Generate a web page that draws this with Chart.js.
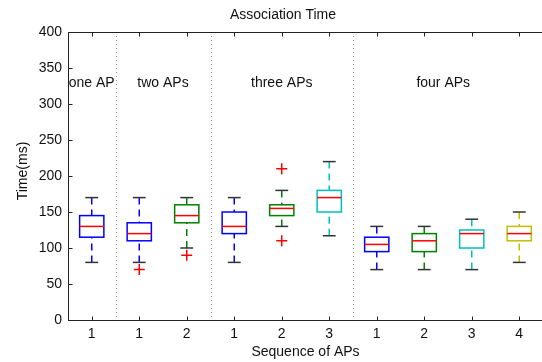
<!DOCTYPE html>
<html>
<head>
<meta charset="utf-8">
<script src="https://cdn.jsdelivr.net/npm/chart.js@4.4.1/dist/chart.umd.min.js"></script>
<style>
  html, body { margin: 0; padding: 0; background: #fff; overflow: hidden; }
</style>
</head>
<body>
<canvas id="grafico" width="550" height="362"></canvas>
<script>
// dados (ms)
const posicoes = [1, 2, 3, 4, 5, 6, 7, 8, 9, 10];
const rotulosX = ['1', '1', '2', '1', '2', '3', '1', '2', '3', '4'];
const bigodeMin = [80, 80, 100, 80, 130, 117, 70, 70, 70, 80];
const quartil1 = [115, 110, 135, 120, 145, 150, 95, 95, 100, 110];
const mediana = [130, 120, 145, 130, 155, 170, 105, 110, 120, 120];
const quartil3 = [145, 135, 160, 150, 160, 180, 115, 120, 125, 130];
const bigodeMax = [170, 170, 170, 170, 180, 220, 130, 130, 140, 150];
const outlierX = [2, 3, 5, 5];
const outlierY = [70, 90, 210, 110];
const ticksY = [0, 50, 100, 150, 200, 250, 300, 350, 400];
const grupos = ['one AP', 'two APs', 'three APs', 'four APs'];
const centroGrupos = [1, 2.5, 5, 8.4];
const separadores = [1.5, 3.5, 6.5];
const cores = ['#0000ff', '#0000ff', '#008000', '#0000ff', '#008000', '#00bfbf', '#0000ff', '#008000', '#00bfbf', '#bfbf00'];

const fonte = '14px "Liberation Sans", Arial, sans-serif';

function linha(ctx, x1, y1, x2, y2) {
  ctx.beginPath();
  ctx.moveTo(x1, y1);
  ctx.lineTo(x2, y2);
  ctx.stroke();
}

// plugin que desenha as caixas usando as escalas do grafico
const boxplot = {
  id: 'boxplot',
  beforeDatasetsDraw(chart) {
    const { ctx, chartArea: area, scales: { x, y } } = chart;
    ctx.save();

    // linhas pontilhadas entre os grupos
    ctx.strokeStyle = '#909090';
    ctx.lineWidth = 1;
    ctx.setLineDash([1, 3]);
    separadores.forEach(s => {
      const px = Math.round(x.getPixelForValue(s)) + 0.5;
      linha(ctx, px, area.top, px, area.bottom);
    });

    posicoes.forEach((p, i) => {
      const xc = x.getPixelForValue(p);
      const xe = x.getPixelForValue(p - 0.255);
      const xd = x.getPixelForValue(p + 0.255);
      const ce = x.getPixelForValue(p - 0.135);
      const cd = x.getPixelForValue(p + 0.135);
      const yMin = y.getPixelForValue(bigodeMin[i]);
      const yQ1 = y.getPixelForValue(quartil1[i]);
      const yMed = y.getPixelForValue(mediana[i]);
      const yQ3 = y.getPixelForValue(quartil3[i]);
      const yMax = y.getPixelForValue(bigodeMax[i]);

      // bigodes tracejados
      ctx.strokeStyle = cores[i];
      ctx.lineWidth = 1.5;
      ctx.setLineDash([7, 5]);
      linha(ctx, xc, yMax, xc, yQ3);
      linha(ctx, xc, yMin, xc, yQ1);

      // extremos
      ctx.setLineDash([]);
      ctx.strokeStyle = '#333';
      linha(ctx, ce, yMax, cd, yMax);
      linha(ctx, ce, yMin, cd, yMin);

      // caixa
      ctx.strokeStyle = cores[i];
      ctx.strokeRect(xe, yQ3, xd - xe, yQ1 - yQ3);

      // mediana
      ctx.strokeStyle = '#ff0000';
      linha(ctx, xe, yMed, xd, yMed);
    });
    ctx.restore();
  },
  afterDraw(chart) {
    const { ctx, chartArea: area, scales: { x, y } } = chart;
    ctx.save();
    ctx.strokeStyle = '#222';
    ctx.lineWidth = 1;
    const top = Math.round(area.top) + 0.5;
    const bottom = Math.round(area.bottom) + 0.5;
    const left = Math.round(area.left) + 0.5;
    linha(ctx, area.left, top, area.right, top);

    // marcas para dentro
    posicoes.forEach(p => {
      const px = Math.round(x.getPixelForValue(p)) + 0.5;
      linha(ctx, px, bottom, px, bottom - 4);
      linha(ctx, px, top, px, top + 4);
    });
    ticksY.forEach(v => {
      const py = Math.round(y.getPixelForValue(v)) + 0.5;
      linha(ctx, left, py, left + 4, py);
    });

    ctx.fillStyle = '#111';
    ctx.font = fonte;
    ctx.textAlign = 'center';
    ctx.textBaseline = 'alphabetic';
    ctx.fillText('Association Time', 283, 19);
    ctx.fillText('Sequence of APs', (area.left + area.right) / 2, 356);

    grupos.forEach((g, i) => {
      ctx.fillText(g, x.getPixelForValue(centroGrupos[i]), y.getPixelForValue(330) + 5);
    });

    ctx.translate(27, (area.top + area.bottom) / 2 - 5);
    ctx.rotate(-Math.PI / 2);
    ctx.fillText('Time(ms)', 0, 0);
    ctx.restore();
  }
};

const grafico = new Chart(document.getElementById('grafico'), {
  type: 'scatter',
  data: {
    datasets: [{
      label: 'outliers',
      data: outlierX.map((v, i) => ({ x: v, y: outlierY[i] })),
      pointStyle: 'cross',
      pointRadius: 5.5,
      pointBorderColor: '#ff0000',
      pointBorderWidth: 1.5,
      pointBackgroundColor: '#ff0000'
    }]
  },
  options: {
    responsive: false,
    animation: false,
    layout: { padding: { top: 32, right: 2, left: 0, bottom: 0 } },
    plugins: { legend: { display: false }, tooltip: { enabled: false }, title: { display: false } },
    scales: {
      x: {
        type: 'linear',
        min: 0.5,
        max: 10.5,
        afterFit: s => { s.height = 42; },
        afterBuildTicks: s => { s.ticks = posicoes.map(v => ({ value: v })); },
        grid: { display: false, drawTicks: false },
        border: { display: true, color: '#222', width: 1 },
        ticks: {
          padding: 6,
          color: '#111',
          font: { family: '"Liberation Sans", Arial, sans-serif', size: 14 },
          callback: (v) => rotulosX[posicoes.indexOf(v)]
        }
      },
      y: {
        min: 0,
        max: 400,
        afterFit: s => { s.width = 68; },
        afterBuildTicks: s => { s.ticks = ticksY.map(v => ({ value: v })); },
        grid: { display: false, drawTicks: false },
        border: { display: true, color: '#222', width: 1 },
        ticks: {
          padding: 6,
          color: '#111',
          font: { family: '"Liberation Sans", Arial, sans-serif', size: 14 }
        }
      }
    }
  },
  plugins: [boxplot]
});
</script>
</body>
</html>
